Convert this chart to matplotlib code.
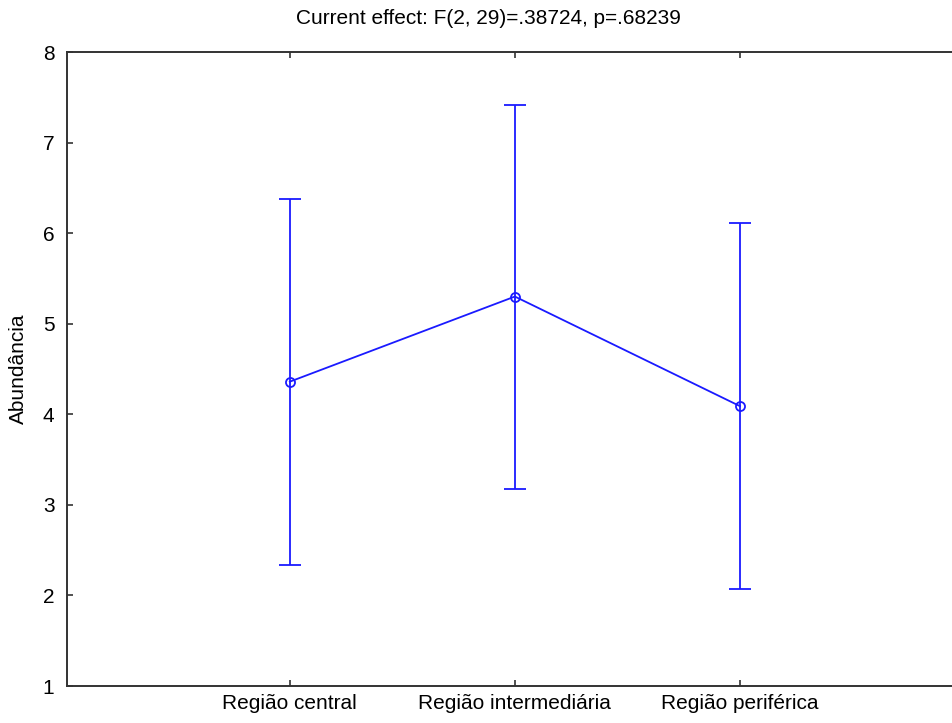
import matplotlib
matplotlib.use("Agg")
import matplotlib.pyplot as plt
import numpy as np

categories = ["Região central", "Região intermediária", "Região periférica"]
means = [4.36, 5.30, 4.09]
upper = [6.38, 7.42, 6.11]
lower = [2.34, 3.18, 2.07]
yticks = [1, 2, 3, 4, 5, 6, 7, 8]
title = "Current effect: F(2, 29)=.38724, p=.68239"
ylabel = "Abundância"

plt.rcParams['font.family'] = ['Liberation Sans', 'DejaVu Sans']

W, H = 953, 723
fig = plt.figure(figsize=(W/100, H/100), dpi=100)
left, right, top, bottom = 67, 965, 52, 686
ax = fig.add_axes([left/W, 1-bottom/H, (right-left)/W, (bottom-top)/H])

x = np.arange(len(categories))
m = np.array(means)
yerr = [m - np.array(lower), np.array(upper) - m]
col = "#1a1aff"
ax.errorbar(x, m, yerr=yerr, color=col, lw=1.3, elinewidth=1.3, capsize=8,
            capthick=1.3, marker='o', markersize=6.5, markerfacecolor='none',
            markeredgecolor=col, markeredgewidth=1.3)

ax.set_xlim(-0.99, 3.0)
ax.set_ylim(1, 8)
ax.set_xticks(x)
ax.set_xticklabels(categories, fontsize=15)
ax.set_yticks(yticks)
ax.set_yticklabels([str(v) for v in yticks], fontsize=15)
ax.tick_params(direction='in', length=4, width=1.2, top=True, right=True,
               color='#333333')
ax.tick_params(axis='y', pad=9)
ax.tick_params(axis='x', pad=6)
for s in ax.spines.values():
    s.set_linewidth(1.4)
    s.set_color('#333333')
ax.set_ylabel(ylabel, fontsize=15)
ax.yaxis.set_label_coords((28-left)/(right-left), 0.5)
fig.text(488/W, 1-18/H, title, ha='center', va='center', fontsize=15)

fig.savefig("out.png", dpi=100)
